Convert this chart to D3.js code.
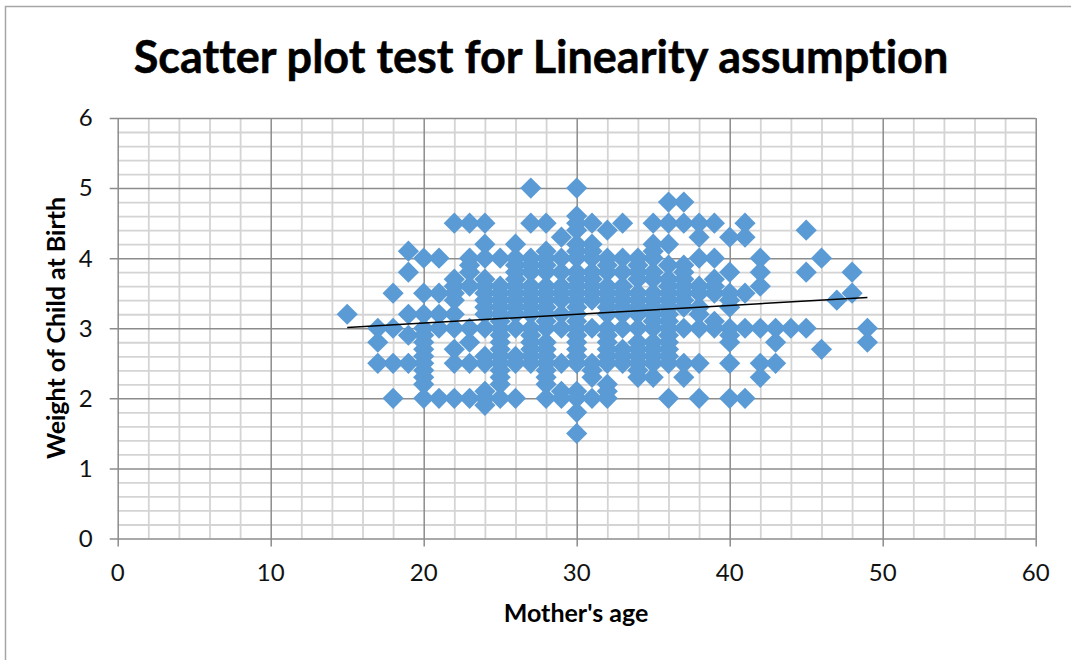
<!DOCTYPE html>
<html><head><meta charset="utf-8">
<script src="https://cdn.jsdelivr.net/npm/d3@7"></script>
<style>html,body{margin:0;padding:0;background:#fff}svg{display:block}text{font-family:Lato,Carlito,sans-serif;font-variant-ligatures:none}</style>
</head><body><div id="c"></div>
<script>
const titleText = "Scatter plot test for Linearity assumption";
const xLabel = "Mother's age";
const yLabel = "Weight of Child at Birth";
const xTicks = [0,10,20,30,40,50,60];
const yTicks = [0,1,2,3,4,5,6];
const xMinor = [2,4,6,8,12,14,16,18,22,24,26,28,32,34,36,38,42,44,46,48,52,54,56,58];
const yMinor = [0.2,0.4,0.6,0.8,1.2,1.4,1.6,1.8,2.2,2.4,2.6,2.8,3.2,3.4,3.6,3.8,4.2,4.4,4.6,4.8,5.2,5.4,5.6,5.8];
const ages = [15,17,18,19,20,21,22,23,24,25,26,27,28,29,30,31,32,33,34,35,36,37,38,39,40,41,42,43,44,45,46,47,48,49];
const weights = [
 [3.2],
 [3.0,2.8,2.5],
 [3.5,3.0,2.5,2.0],
 [4.1,3.8,3.2,2.9,2.5],
 [4.0,3.5,3.2,3.0,2.9,2.8,2.7,2.6,2.5,2.4,2.3,2.2,2.0],
 [4.0,3.5,3.2,3.0,2.0],
 [4.5,3.7,3.6,3.5,3.4,3.2,3.0,2.7,2.5,2.0],
 [4.5,4.0,3.9,3.8,3.6,3.0,2.8,2.5,2.0],
 [4.5,4.2,4.0,3.7,3.6,3.5,3.4,3.3,3.2,3.0,2.6,2.5,2.1,2.0,1.9],
 [4.0,3.6,3.5,3.4,3.3,3.2,3.1,3.0,2.9,2.8,2.7,2.6,2.5,2.4,2.3,2.2,2.0],
 [4.2,4.0,3.9,3.8,3.7,3.6,3.5,3.4,3.3,3.2,3.0,2.6,2.5,2.0],
 [5.0,4.5,4.0,3.9,3.8,3.6,3.5,3.4,3.3,3.2,3.0,2.9,2.8,2.7,2.6,2.5],
 [4.5,4.1,4.0,3.9,3.8,3.6,3.5,3.4,3.3,3.2,3.1,3.0,2.8,2.7,2.6,2.5,2.4,2.3,2.2,2.0],
 [4.3,4.0,3.8,3.6,3.5,3.4,3.2,3.0,2.5,2.1,2.0],
 [5.0,4.6,4.5,4.4,4.2,4.1,4.0,3.8,3.7,3.6,3.5,3.4,3.3,3.2,3.1,3.0,2.9,2.8,2.7,2.6,2.5,2.1,2.0,1.8,1.5],
 [4.5,4.2,4.1,4.0,3.8,3.7,3.6,3.5,3.4,3.0,2.5,2.4,2.3,2.0],
 [4.4,4.0,3.9,3.8,3.6,3.5,3.4,3.3,3.2,3.0,2.9,2.8,2.7,2.6,2.5,2.2,2.1,2.0],
 [4.5,4.0,3.8,3.6,3.5,3.4,3.3,3.2,3.0,2.7,2.6,2.5],
 [4.0,3.9,3.8,3.7,3.5,3.4,3.3,3.2,3.0,2.8,2.7,2.6,2.5,2.4,2.3],
 [4.5,4.2,4.1,4.0,3.8,3.7,3.5,3.4,3.3,3.2,3.1,3.0,2.8,2.7,2.6,2.5,2.3],
 [4.8,4.5,4.2,3.9,3.7,3.6,3.5,3.4,3.3,3.2,3.1,3.0,2.9,2.8,2.7,2.6,2.5,2.0],
 [4.8,4.5,3.9,3.8,3.7,3.6,3.5,3.4,3.3,3.0,2.5,2.3],
 [4.5,4.3,4.0,3.6,3.5,3.3,3.2,3.0,2.5,2.0],
 [4.5,4.0,3.7,3.6,3.5,3.1,3.0],
 [4.3,3.8,3.5,3.4,3.3,3.0,2.9,2.8,2.5,2.0],
 [4.5,4.3,3.5,3.0,2.0],
 [4.0,3.8,3.6,3.0,2.5,2.3],
 [3.0,2.8,2.5],
 [3.0],
 [4.4,3.8,3.0],
 [4.0,2.7],
 [3.4],
 [3.8,3.5],
 [3.0,2.8]
];
const trendAges = [15,49];
const trendWeights = [3.01,3.44];

const W=1071,H=660;
const svg=d3.select("#c").append("svg").attr("width",W).attr("height",H);
const x=d3.scaleLinear().domain([0,60]).range([117.7,1035.7]);
const y=d3.scaleLinear().domain([0,6]).range([538.5,118]);

svg.append("path").attr("d","M5.5,660V6.5H1071").attr("fill","none").attr("stroke","#a6a6a6").attr("stroke-width",1.5);

const plotW=x.range()[1]-x.range()[0], plotH=y.range()[0]-y.range()[1];
const minorY=svg.append("g").attr("transform",`translate(${x(0)},0)`)
  .call(d3.axisLeft(y).tickValues(yMinor).tickSize(-plotW).tickFormat(""));
const minorX=svg.append("g").attr("transform",`translate(0,${y(0)})`)
  .call(d3.axisBottom(x).tickValues(xMinor).tickSize(-plotH).tickFormat(""));
[minorX,minorY].forEach(g=>{g.select(".domain").remove();g.selectAll("line").attr("stroke","#d4d4d4").attr("stroke-width",1.8);});

const majY=svg.append("g").attr("transform",`translate(${x(0)-8},0)`)
  .call(d3.axisRight(y).tickValues(yTicks).tickSize(plotW+8).tickFormat(""));
const majX=svg.append("g").attr("transform",`translate(0,${y(0)+8})`)
  .call(d3.axisTop(x).tickValues(xTicks).tickSize(plotH+8).tickFormat(""));
[majX,majY].forEach(g=>{g.select(".domain").remove();g.selectAll("line").attr("stroke","#8c8c8c").attr("stroke-width",1.5);});

const points=ages.flatMap((a,i)=>weights[i].map(w=>({a,w})));
const diamond=d3.symbol().type(d3.symbolSquare).size(225);
svg.append("g").selectAll("path").data(points).join("path")
  .attr("d",diamond())
  .attr("transform",d=>`translate(${x(d.a)},${y(d.w)}) rotate(45)`)
  .attr("fill","#5b9bd5");

svg.append("line").attr("x1",x(trendAges[0])).attr("y1",y(trendWeights[0]))
  .attr("x2",x(trendAges[1])).attr("y2",y(trendWeights[1]))
  .attr("stroke","#000").attr("stroke-width",1.5);

svg.append("g").selectAll("text").data(yTicks).join("text")
  .attr("x",x(0)-25).attr("y",d=>y(d)).attr("dy","0.35em").attr("text-anchor","end")
  .attr("font-size",24).attr("fill","#111").text(d=>d);
svg.append("g").selectAll("text").data(xTicks).join("text")
  .attr("x",d=>x(d)).attr("y",581).attr("text-anchor","middle")
  .attr("font-size",24).attr("fill","#111").text(d=>d);

svg.append("text").attr("x",541).attr("y",73).attr("text-anchor","middle")
  .attr("font-size",45).attr("font-weight",700).attr("fill","#000").attr("stroke","#000").attr("stroke-width",0.5).text(titleText);
svg.append("text").attr("x",576).attr("y",622).attr("text-anchor","middle")
  .attr("font-size",25).attr("font-weight",700).attr("fill","#000").text(xLabel);
svg.append("text").attr("transform",`translate(65,328) rotate(-90)`).attr("text-anchor","middle")
  .attr("font-size",25).attr("font-weight",700).attr("fill","#000").text(yLabel);
</script></body></html>
